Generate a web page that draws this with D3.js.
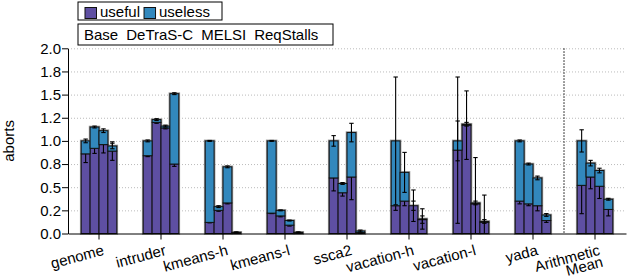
<!DOCTYPE html>
<html><head><meta charset="utf-8">
<script src="https://d3js.org/d3.v7.min.js"></script>
<style>
  body { margin: 0; background: #fff; }
  svg text { font-family: "Liberation Sans", Arial, sans-serif; fill: #000; }
  .gridlines line { stroke: #bbb; stroke-dasharray: 1,2; }
  .gridlines .domain { stroke: none; }
  .axis .domain, .axis line { stroke: #000; }
  .bar { stroke: #111; stroke-width: 1; }
  .halo { fill: none; stroke: #999; stroke-width: 2.6; }
  .err { stroke: #000; stroke-width: 1.1; fill: none; }
</style>
</head>
<body>
<svg id="chart" width="639" height="278"></svg>
<script>
const benchmarks = ["genome", "intruder", "kmeans-h", "kmeans-l", "ssca2", "vacation-h", "vacation-l", "yada", "Arithmetic Mean"];
const systems = ["Base", "DeTraS-C", "MELSI", "ReqStalls"];
const parts = ["useful", "useless"];
const yTicks = [0, 0.25, 0.5, 0.75, 1.0, 1.25, 1.5, 1.75, 2.0];
const yTickLabels = ["0.0", "0.2", "0.5", "0.8", "1.0", "1.2", "1.5", "1.8", "2.0"];

// useful aborts (bottom segment), one row per benchmark, one column per system
const useful = [
  [0.86, 0.92, 0.96, 0.89],
  [0.84, 1.20, 1.14, 0.75],
  [0.12, 0.25, 0.33, 0.01],
  [0.22, 0.19, 0.09, 0.005],
  [0.60, 0.44, 0.61, 0.01],
  [0.30, 0.35, 0.30, 0.15],
  [0.90, 1.17, 0.32, 0.12],
  [0.35, 0.32, 0.30, 0.14],
  [0.52, 0.61, 0.51, 0.26]
];
// total aborts (useful + useless)
const total = [
  [1.00, 1.15, 1.11, 0.945],
  [1.00, 1.23, 1.16, 1.51],
  [1.00, 0.29, 0.72, 0.013],
  [1.00, 0.25, 0.14, 0.013],
  [1.00, 0.54, 1.09, 0.027],
  [1.00, 0.66, 0.30, 0.157],
  [1.00, 1.18, 0.33, 0.13],
  [1.00, 0.75, 0.60, 0.20],
  [1.00, 0.76, 0.68, 0.37]
];
// error half-widths
const usefulErr = [
  [0.094, 0.055, 0.09, 0.10],
  [0.01, 0.01, 0.01, 0.025],
  [0.005, 0.01, 0.01, 0.0],
  [0.005, 0.01, 0.01, 0.0],
  [0.14, 0.036, 0.245, 0.01],
  [0.05, 0.05, 0.05, 0.04],
  [0.79, 0.37, 0.5, 0.295],
  [0.03, 0.02, 0.055, 0.02],
  [0.306, 0.127, 0.132, 0.07]
];
const totalErr = [
  [0.02, 0.01, 0.02, 0.03],
  [0.01, 0.01, 0.01, 0.01],
  [0.005, 0.01, 0.01, 0.005],
  [0.005, 0.005, 0.005, 0.005],
  [0.057, 0.01, 0.10, 0.01],
  [0.69, 0.216, 0.17, 0.11],
  [0.215, 0.02, 0.02, 0.02],
  [0.01, 0.01, 0.02, 0.015],
  [0.12, 0.03, 0.025, 0.01]
];

const colors = d3.scaleOrdinal().domain(parts).range(["#5e4fa2", "#3288bd"]);

const svg = d3.select("#chart");
const plotLeft = 68, plotRight = 626, plotTop = 48.3, plotBottom = 233.5;
const fontSize = "15px";

const x0 = d3.scaleBand().domain(benchmarks).range([plotLeft, plotRight]);
const x1 = d3.scaleBand().domain(systems).range([13.2, 48.8]);
const y = d3.scaleLinear().domain([0, 2]).range([plotBottom, plotTop]).clamp(true);

// gridlines
svg.append("g").attr("class", "gridlines")
  .attr("transform", "translate(" + plotLeft + ",0)")
  .call(d3.axisLeft(y).tickValues(yTicks.slice(1)).tickSize(-(plotRight - plotLeft)).tickFormat(""));

// separator before the mean
svg.append("line")
  .attr("x1", x0("Arithmetic Mean")).attr("x2", x0("Arithmetic Mean"))
  .attr("y1", plotTop).attr("y2", plotBottom)
  .attr("stroke", "#000").attr("stroke-dasharray", "1.5,1.5");

// flatten the data
const bars = [];
benchmarks.forEach((b, i) => {
  systems.forEach((s, j) => {
    bars.push({ b: b, s: s, useful: useful[i][j], total: total[i][j], ue: usefulErr[i][j], te: totalErr[i][j] });
  });
});
const bx = d => x0(d.b) + x1(d.s);
const bw = x1.bandwidth();

const errBar = (g, cls, cy, e) => {
  const sel = g.selectAll("g." + cls).data(bars).join("g").attr("class", cls);
  sel.append("line").attr("class", "err")
    .attr("x1", d => bx(d) + bw / 2).attr("x2", d => bx(d) + bw / 2)
    .attr("y1", d => y(cy(d) + e(d))).attr("y2", d => y(cy(d) - e(d)));
  [1, -1].forEach(k => {
    sel.append("line").attr("class", "err")
      .attr("x1", d => bx(d) + bw / 2 - 2.2).attr("x2", d => bx(d) + bw / 2 + 2.2)
      .attr("y1", d => y(cy(d) + k * e(d))).attr("y2", d => y(cy(d) + k * e(d)))
      .attr("visibility", d => (cy(d) + k * e(d) < 0 ? "hidden" : "visible"));
  });
};

const plot = svg.append("g");
plot.selectAll("rect.halo").data(bars).join("rect").attr("class", "halo")
  .attr("x", bx).attr("width", bw)
  .attr("y", d => y(d.total)).attr("height", d => y(0) - y(d.total));
plot.selectAll("rect.useful").data(bars).join("rect").attr("class", "bar useful")
  .attr("x", bx).attr("width", bw)
  .attr("y", d => y(d.useful)).attr("height", d => y(0) - y(d.useful))
  .attr("fill", colors("useful"));
errBar(plot.append("g"), "uerr", d => d.useful, d => d.ue);
plot.selectAll("rect.useless").data(bars).join("rect").attr("class", "bar useless")
  .attr("x", bx).attr("width", bw)
  .attr("y", d => y(d.total)).attr("height", d => y(d.useful) - y(d.total))
  .attr("fill", colors("useless"));
errBar(plot.append("g"), "terr", d => d.total, d => d.te);

// axes
const yAxis = svg.append("g").attr("class", "axis")
  .attr("transform", "translate(" + plotLeft + ",0)")
  .call(d3.axisLeft(y).tickValues(yTicks).tickFormat((d, i) => yTickLabels[i]).tickSize(6).tickPadding(1).tickSizeOuter(0));
yAxis.selectAll("text").style("font-size", fontSize).style("font-family", "Liberation Sans, Arial, sans-serif");

const xAxis = svg.append("g").attr("class", "axis")
  .attr("transform", "translate(0," + plotBottom + ")")
  .call(d3.axisBottom(x0).tickSize(6).tickSizeOuter(0).tickFormat(""));

const xl = svg.append("g").selectAll("text").data(benchmarks).join("text")
  .attr("text-anchor", "end")
  .style("font-size", fontSize)
  .attr("transform", d => "translate(" + (x0(d) + x0.bandwidth() / 2 + 3) + "," + (plotBottom + 11) + ") rotate(-15)");
xl.each(function(d) {
  const words = d === "Arithmetic Mean" ? ["Arithmetic", "Mean"] : [d];
  d3.select(this).selectAll("tspan").data(words).join("tspan")
    .attr("x", 0).attr("dy", (w, k) => (k === 0 ? "0.7em" : "0.8em"))
    .text(w => w);
});

svg.append("text")
  .attr("transform", "translate(14," + ((plotTop + plotBottom) / 2) + ") rotate(-90)")
  .attr("text-anchor", "middle")
  .style("font-size", fontSize)
  .text("aborts");

// legends
const leg1 = svg.append("g");
leg1.append("rect").attr("x", 78).attr("y", 2).attr("width", 144).attr("height", 18)
  .attr("fill", "#fff").attr("stroke", "#000");
let lx = 85;
parts.forEach(p => {
  leg1.append("rect").attr("x", lx).attr("y", 7.5).attr("width", 11.5).attr("height", 11)
    .attr("fill", colors(p)).attr("stroke", "#111");
  const t = leg1.append("text").attr("x", lx + 15).attr("y", 17).style("font-size", fontSize).text(p);
  lx += 15 + t.node().getComputedTextLength() + 4;
});

const leg2 = svg.append("g");
leg2.append("rect").attr("x", 78).attr("y", 24).attr("width", 255).attr("height", 21)
  .attr("fill", "#fff").attr("stroke", "#000");
let sx = 84;
systems.forEach(s => {
  const t = leg2.append("text").attr("x", sx).attr("y", 40).style("font-size", fontSize).text(s);
  sx += t.node().getComputedTextLength() + 8;
});
</script>
</body></html>
